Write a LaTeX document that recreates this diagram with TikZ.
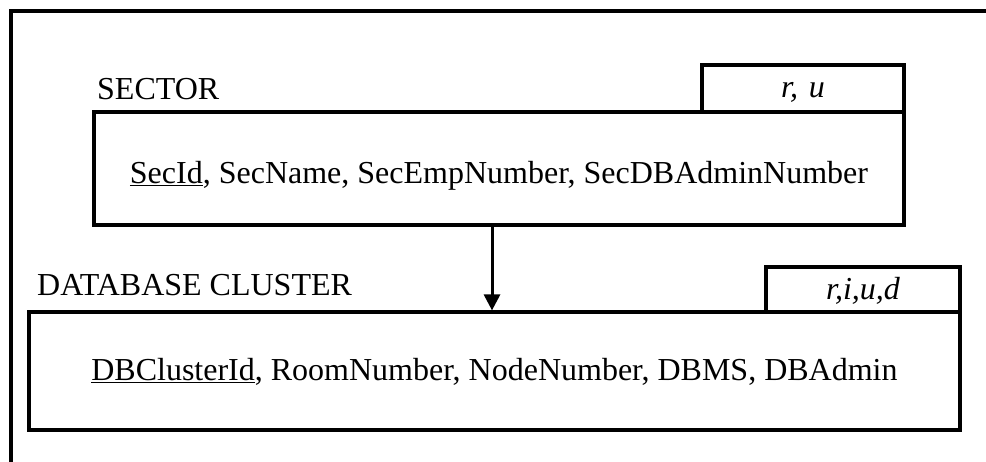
\documentclass[tikz,border=0pt]{standalone}
\usepackage{fontspec}
\setmainfont{Liberation Serif}
\usetikzlibrary{arrows.meta}
\begin{document}
\begin{tikzpicture}[x=1pt,y=-1pt,
  box/.style={draw=black,line width=3.2pt,rectangle,inner sep=0pt,fill=white},
  lbl/.style={inner sep=0pt,font=\fontsize{32}{38}\selectfont},
  tabtxt/.style={inner sep=0pt,font=\fontsize{32}{38}\selectfont\itshape},
  conn/.style={draw=black,line width=3pt,-{Triangle[length=16pt,width=16pt]}}]
\useasboundingbox (0,0) rectangle (986,461);
\coordinate (fl) at (11,470);
\coordinate (fr) at (995,11);
\draw[line width=3.2pt] (fl) |- (fr);
% SECTOR
\node[box,minimum width=202pt,minimum height=47pt] (sectab) at (803,88.5) {};
\node[tabtxt,anchor=base] (sectabtxt) at (803,97) {r,\,\,u};
\node[box,minimum width=810pt,minimum height=113pt] (sec) at (499,168.5) {};
\node[lbl,anchor=base west] (seclbl) at (97,99) {SECTOR};
\node[lbl,anchor=base] (sectxt) at (499,183) {\underline{SecId}, SecName, SecEmpNumber, SecDBAdminNumber};
% DATABASE CLUSTER
\node[box,minimum width=194pt,minimum height=46pt] (dbtab) at (863,290) {};
\node[tabtxt,anchor=base] (dbtabtxt) at (863,299) {r,i,u,d};
\node[box,minimum width=931pt,minimum height=118pt] (db) at (494.5,371) {};
\node[lbl,anchor=base west] (dblbl) at (37,295) {DATABASE CLUSTER};
\node[lbl,anchor=base] (dbtxt) at (494.5,380) {\underline{DBClusterId}, RoomNumber, NodeNumber, DBMS, DBAdmin};
% connector
\coordinate (a1) at (492,0);
\draw[conn] (sec.south -| a1) -- (db.north -| a1);
\end{tikzpicture}
\end{document}
